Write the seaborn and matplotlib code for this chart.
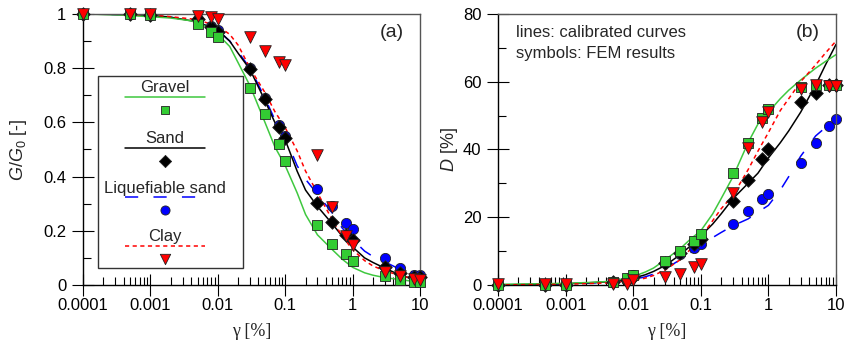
import numpy as np
import pandas as pd
import matplotlib
matplotlib.use('Agg')
import matplotlib.pyplot as plt
import seaborn as sns
from matplotlib.ticker import FixedLocator, LogLocator, NullFormatter, MultipleLocator
from matplotlib.patches import Rectangle

# strain values of the FEM results [%]
gamma_pts = [1e-4, 5e-4, 1e-3, 5e-3, 8e-3, 0.01, 0.03, 0.05, 0.08, 0.1,
             0.3, 0.5, 0.8, 1, 3, 5, 8, 10]
# strain values along the calibrated curves [%]
gamma_crv = [1e-4, 3e-4, 1e-3, 2e-3, 4e-3, 6e-3, 0.01, 0.015, 0.02, 0.03, 0.05, 0.07,
             0.1, 0.15, 0.2, 0.3, 0.5, 0.7, 1, 1.5, 2, 3, 5, 7, 10]

# (a) G/G0 - FEM results
gg_gravel = [1.0, 1.0, 0.997, 0.962, 0.935, 0.916, 0.726, 0.632, 0.52, 0.459,
             0.221, 0.151, 0.113, 0.09, 0.033, 0.018, 0.012, 0.01]
gg_sand = [1.0, 1.0, 0.998, 0.98, 0.951, 0.935, 0.796, 0.685, 0.582, 0.541,
           0.301, 0.234, 0.185, 0.166, 0.068, 0.043, 0.031, 0.03]
gg_liq = [1.0, 1.0, 0.998, 0.98, 0.955, 0.94, 0.80, 0.69, 0.59, 0.55,
          0.353, 0.29, 0.23, 0.205, 0.098, 0.062, 0.037, 0.035]
gg_clay = [1.0, 1.0, 1.0, 0.993, 0.988, 0.98, 0.916, 0.863, 0.822, 0.81,
           0.48, 0.289, 0.182, 0.146, 0.049, 0.033, 0.021, 0.018]

# (a) G/G0 - calibrated curves
ggc_gravel = [1.0, 0.997, 0.99, 0.985, 0.975, 0.96, 0.925, 0.88, 0.82, 0.735, 0.60, 0.51,
              0.44, 0.34, 0.26, 0.185, 0.13, 0.095, 0.065, 0.045, 0.036, 0.027, 0.02, 0.015, 0.012]
ggc_sand = [1.0, 0.998, 0.995, 0.988, 0.975, 0.962, 0.94, 0.9, 0.855, 0.795, 0.68, 0.6,
            0.535, 0.42, 0.35, 0.29, 0.225, 0.18, 0.14, 0.1, 0.083, 0.062, 0.037, 0.026, 0.018]
ggc_liq = [1.0, 0.998, 0.995, 0.988, 0.975, 0.962, 0.94, 0.9, 0.86, 0.8, 0.69, 0.61,
           0.545, 0.44, 0.39, 0.335, 0.265, 0.21, 0.168, 0.125, 0.105, 0.085, 0.058, 0.05, 0.045]
ggc_clay = [1.0, 0.999, 0.997, 0.99, 0.982, 0.972, 0.955, 0.925, 0.885, 0.8, 0.71, 0.64,
            0.58, 0.495, 0.42, 0.34, 0.24, 0.18, 0.13, 0.09, 0.07, 0.052, 0.035, 0.026, 0.018]

# (b) D - FEM results
d_gravel = [0, 0, 0, 1.0, 2.2, 3.0, 7.1, 10, 13.1, 15,
            33, 42, 49.2, 51.9, 58.5, 59, 59, 59]
d_sand = [0, 0, 0, 0.8, 1.5, 2.5, 6.5, 9.5, 12, 13.5,
          24.9, 31, 37.1, 40, 53.9, 56.7, 59, 59]
d_liq = [0, 0, 0, 0.8, 1.5, 3, 6.5, 9, 11, 12,
         18, 21.9, 25.3, 27, 35.9, 42, 47, 49]
d_clay = [0.2, 0.2, 0.2, 0.2, 0.3, 1.5, 2.5, 3.2, 5.2, 6.1,
          27.2, 40.4, 48.2, 51.1, 58, 59, 58.7, 58.7]

# (b) D - calibrated curves
dc_gravel = [0.2, 0.3, 0.5, 0.7, 1.0, 1.5, 2.5, 3.8, 5, 7.5, 10.8, 13.5,
             16, 21, 25.5, 32, 42, 47.5, 51, 55, 57.5, 60.5, 64, 66, 68]
dc_sand = [0, 0.2, 0.4, 0.6, 0.9, 1.2, 2, 3, 4, 5.8, 9, 11.5,
           14.5, 18, 21, 25.5, 30, 33, 37.5, 42, 45.5, 51, 59, 65, 71]
dc_liq = [0, 0.1, 0.3, 0.5, 0.8, 1.1, 1.6, 2.4, 3.2, 4.8, 7.5, 9.5,
          11.5, 14, 15.5, 17.5, 19.5, 21.5, 23.5, 28, 32, 38, 44, 46.5, 49]
dc_clay = [0, 0.1, 0.2, 0.4, 0.6, 0.9, 1.3, 2, 2.8, 4.5, 7.5, 10.5,
           14, 19, 22.5, 26.5, 34, 39.5, 45, 51.5, 55, 60, 65, 68.5, 72]

soils = ['Gravel', 'Sand', 'Liquefiable sand', 'Clay']
x_ticks = [1e-4, 1e-3, 1e-2, 1e-1, 1, 10]
x_ticklabels = ['0.0001', '0.001', '0.01', '0.1', '1', '10']

sns.set_style('ticks')
plt.rcParams['font.family'] = ['Liberation Sans', 'DejaVu Sans']
plt.rcParams['mathtext.fontset'] = 'custom'
plt.rcParams['mathtext.rm'] = 'Liberation Sans'
plt.rcParams['mathtext.it'] = 'Liberation Sans:italic'
plt.rcParams['lines.scale_dashes'] = False

# styles per soil: line color, linestyle, marker, marker face, marker size
styles = {
    'Gravel': dict(lc='#3fc83f', ls='-', m='s', fc='#33cc33', s=46, z=4),
    'Sand': dict(lc='black', ls='-', m='D', fc='black', s=48, z=3),
    'Liquefiable sand': dict(lc='#0000ff', ls=(0, (9.5, 11)), m='o', fc='#0000ff', s=54, z=2),
    'Clay': dict(lc='#ff0000', ls=(0, (3, 2.5)), m='v', fc='#ff0000', s=70, z=5),
}
line_z = {'Liquefiable sand': 1.1, 'Sand': 1.2, 'Gravel': 1.3, 'Clay': 1.4}

pts_a = pd.DataFrame({'gamma': gamma_pts * 4,
                      'val': gg_gravel + gg_sand + gg_liq + gg_clay,
                      'soil': np.repeat(soils, len(gamma_pts))})
crv_a = pd.DataFrame({'gamma': gamma_crv * 4,
                      'val': ggc_gravel + ggc_sand + ggc_liq + ggc_clay,
                      'soil': np.repeat(soils, len(gamma_crv))})
pts_b = pd.DataFrame({'gamma': gamma_pts * 4,
                      'val': d_gravel + d_sand + d_liq + d_clay,
                      'soil': np.repeat(soils, len(gamma_pts))})
crv_b = pd.DataFrame({'gamma': gamma_crv * 4,
                      'val': dc_gravel + dc_sand + dc_liq + dc_clay,
                      'soil': np.repeat(soils, len(gamma_crv))})

fig = plt.figure(figsize=(8.47, 3.54), dpi=100)
ax_a = fig.add_axes([0.098, 0.195, 0.398, 0.7655])
ax_b = fig.add_axes([0.588, 0.195, 0.399, 0.7655])


def draw_panel(ax, pts, crv):
    ax.set_xscale('log')
    for soil in soils:
        st = styles[soil]
        c = crv[crv.soil == soil]
        sns.lineplot(data=c, x='gamma', y='val', ax=ax, color=st['lc'], lw=1.1,
                     linestyle=st['ls'], estimator=None, zorder=line_z[soil])
    for soil in ['Liquefiable sand', 'Sand', 'Gravel', 'Clay']:
        st = styles[soil]
        p = pts[pts.soil == soil]
        sns.scatterplot(data=p, x='gamma', y='val', ax=ax, marker=st['m'], s=st['s'],
                        color=st['fc'], edgecolor='#222222', linewidth=0.6,
                        zorder=st['z'], clip_on=False)
    ax.set_xlim(1e-4, 10)
    ax.xaxis.set_major_locator(FixedLocator(x_ticks))
    ax.set_xticklabels(x_ticklabels)
    ax.xaxis.set_minor_locator(LogLocator(base=10, subs=np.arange(2, 10)))
    ax.xaxis.set_minor_formatter(NullFormatter())
    ax.tick_params(which='major', direction='inout', length=16, width=0.8,
                   labelsize=12, pad=4, colors='black')
    ax.tick_params(axis='x', which='major', pad=1.5)
    ax.tick_params(which='minor', direction='in', length=5.5, width=0.8, colors='black')
    for side in ['left', 'bottom']:
        ax.spines[side].set_color('black')
        ax.spines[side].set_linewidth(1.0)
    for side in ['top', 'right']:
        ax.spines[side].set_visible(True)
        ax.spines[side].set_color('#555555')
        ax.spines[side].set_linewidth(1.0)
    ax.set_xlabel('γ [%]', family='Liberation Serif', fontsize=13)
    ax.xaxis.set_label_coords(0.5, -0.14)


draw_panel(ax_a, pts_a, crv_a)
ax_a.set_ylim(0, 1)
ax_a.set_yticks([0, 0.2, 0.4, 0.6, 0.8, 1.0])
ax_a.set_yticklabels(['0', '0.2', '0.4', '0.6', '0.8', '1'])
ax_a.yaxis.set_minor_locator(MultipleLocator(0.1))
ax_a.set_ylabel('$G/G_0$ [-]', fontsize=13)
ax_a.yaxis.set_label_coords(-0.16, 0.5)
ax_a.text(0.916, 0.93, '(a)', transform=ax_a.transAxes, fontsize=14,
          ha='center', va='center')

draw_panel(ax_b, pts_b, crv_b)
ax_b.set_ylim(0, 80)
ax_b.set_yticks([0, 20, 40, 60, 80])
ax_b.yaxis.set_minor_locator(MultipleLocator(10))
ax_b.set_ylabel('$D$ [%]', fontsize=13)
ax_b.yaxis.set_label_coords(-0.112, 0.5)
ax_b.text(0.917, 0.93, '(b)', transform=ax_b.transAxes, fontsize=14,
          ha='center', va='center')
ax_b.text(0.053, 0.93, 'lines: calibrated curves', transform=ax_b.transAxes,
          fontsize=12, ha='left', va='center')
ax_b.text(0.053, 0.856, 'symbols: FEM results', transform=ax_b.transAxes,
          fontsize=12, ha='left', va='center')

# legend box of panel (a): name, line sample, marker sample
ax_a.add_patch(Rectangle((0.045, 0.063), 0.43, 0.708, transform=ax_a.transAxes,
                         facecolor='white', edgecolor='#333333', lw=1.0, zorder=6))
leg_rows = [0.727, 0.541, 0.357, 0.178]
for soil, yt in zip(soils, leg_rows):
    st = styles[soil]
    ax_a.text(0.243, yt, soil, transform=ax_a.transAxes, fontsize=12,
              ha='center', va='center', zorder=7)
    ax_a.plot([0.125, 0.362], [yt - 0.034, yt - 0.034], transform=ax_a.transAxes,
              color=st['lc'], lw=1.1, linestyle=st['ls'], zorder=7)
    ax_a.scatter([0.243], [yt - 0.082], transform=ax_a.transAxes, marker=st['m'],
                 s=st['s'] * 0.8, color=st['fc'], edgecolor='#222222', linewidth=0.6, zorder=7)

fig.savefig('out.png', dpi=100)
